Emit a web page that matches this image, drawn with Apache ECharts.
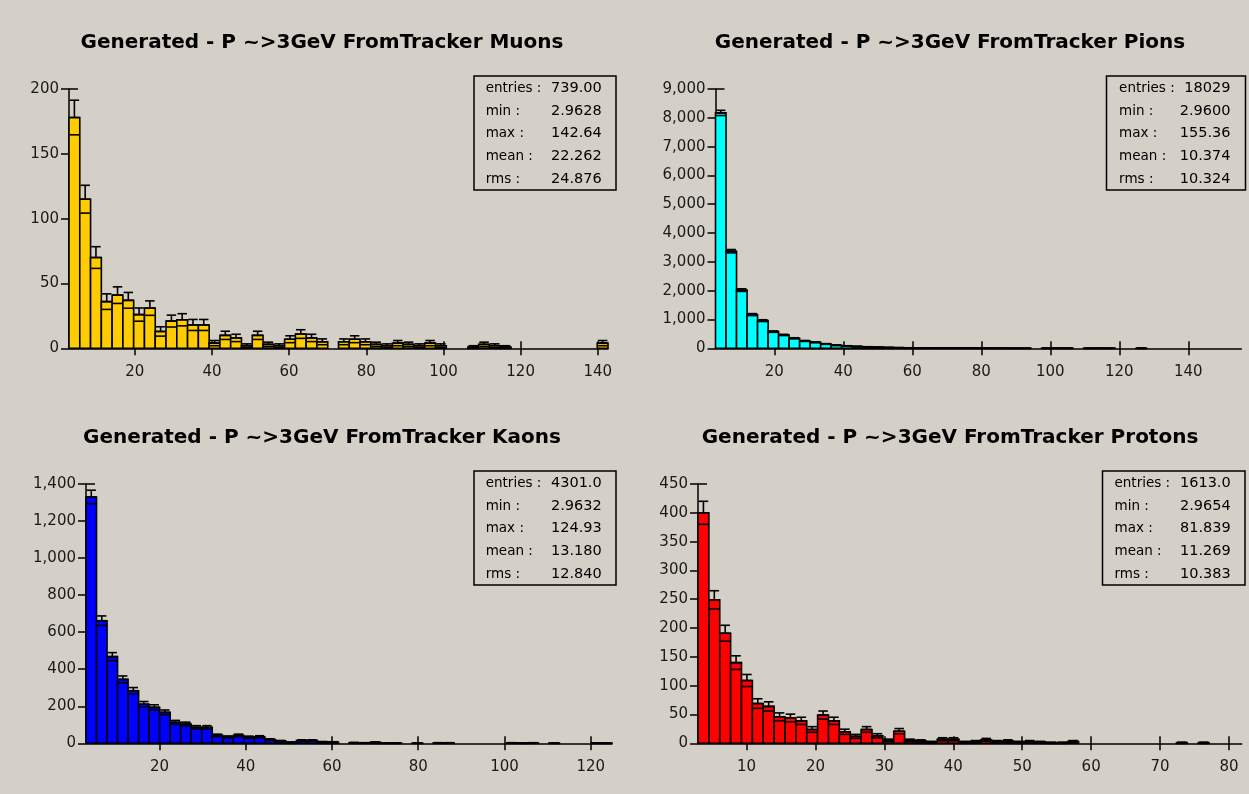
<!DOCTYPE html>
<html>
<head>
<meta charset="utf-8">
<script src="https://cdn.jsdelivr.net/npm/echarts@6/dist/echarts.min.js"></script>
<style>
  html, body { margin: 0; padding: 0; background: #d4d0c8; }
  #chart { width: 1249px; height: 794px; }
</style>
</head>
<body>
<div id="chart"></div>
<script>
// Generated momentum spectra (P > ~3 GeV, FromTracker), 50 bins per histogram.
const muonCounts = [178, 115, 70, 36, 41, 37, 26, 31, 13, 21, 22, 18, 18, 4, 10, 8, 2, 10, 3, 2,
  7, 11, 8, 5, 0, 5, 7, 5, 3, 2, 4, 3, 2, 4, 2, 0, 0, 1, 3, 2,
  1, 0, 0, 0, 0, 0, 0, 0, 0, 4];
const pionCounts = [8170, 3370, 2020, 1170, 960, 578, 463, 347, 255, 208, 150, 105, 80, 62, 48, 35, 26, 20, 15, 11,
  9, 7, 5, 4, 3, 3, 2, 2, 1, 1, 0, 1, 2, 1, 0, 1, 1, 1, 0, 0,
  1, 0, 0, 0, 0, 0, 0, 0, 0, 0];
const kaonCounts = [1330, 662, 468, 345, 284, 211, 194, 167, 113, 104, 86, 86, 43, 34, 43, 33, 35, 20, 12, 5,
  15, 15, 7, 6, 0, 3, 2, 5, 1, 1, 0, 1, 0, 2, 2, 0, 0, 0, 0, 0,
  2, 1, 2, 0, 1, 0, 0, 0, 1, 1];
const protonCounts = [400, 249, 191, 140, 109, 69, 64, 46, 44, 39, 24, 49, 39, 20, 12, 24, 13, 5, 21, 5,
  4, 2, 7, 7, 2, 3, 6, 3, 4, 2, 3, 2, 1, 1, 3, 0, 0, 0, 0, 0,
  0, 0, 0, 0, 1, 0, 1, 0, 0, 0];

// Histogram ranges [min, max] in GeV
const muonRange = [2.9628, 142.64];
const pionRange = [2.9600, 155.36];
const kaonRange = [2.9632, 124.93];
const protonRange = [2.9654, 81.839];

// Axis tick values
const muonXTicks = [20, 40, 60, 80, 100, 120, 140];
const pionXTicks = [20, 40, 60, 80, 100, 120, 140];
const kaonXTicks = [20, 40, 60, 80, 100, 120];
const protonXTicks = [10, 20, 30, 40, 50, 60, 70, 80];
const muonYAxis = [200, 50];
const pionYAxis = [9000, 1000];
const kaonYAxis = [1400, 200];
const protonYAxis = [450, 50];

// Statistics boxes
const statLabels = ['entries :', 'min :', 'max :', 'mean :', 'rms :'];
const muonStats = ['739.00', '2.9628', '142.64', '22.262', '24.876'];
const pionStats = ['18029', '2.9600', '155.36', '10.374', '10.324'];
const kaonStats = ['4301.0', '2.9632', '124.93', '13.180', '12.840'];
const protonStats = ['1613.0', '2.9654', '81.839', '11.269', '10.383'];

const titles = [
  'Generated - P ~>3GeV FromTracker Muons',
  'Generated - P ~>3GeV FromTracker Pions',
  'Generated - P ~>3GeV FromTracker Kaons',
  'Generated - P ~>3GeV FromTracker Protons'
];

const FONT = '"DejaVu Sans", Verdana, sans-serif';

const panels = [
  { counts: muonCounts, range: muonRange, xt: muonXTicks, y: muonYAxis, stats: muonStats, title: titles[0],
    color: '#ffcc00', grid: { left: 69, top: 89, width: 539, height: 259.3 },
    box: { x: 474, y: 76, w: 142, h: 114, lx: 11.7, vx: 127.7 }, tx: 322, ty: 43 },
  { counts: pionCounts, range: pionRange, xt: pionXTicks, y: pionYAxis, stats: pionStats, title: titles[1],
    color: '#00ffff', grid: { left: 715.5, top: 89, width: 525.8, height: 259.3 },
    box: { x: 1106.5, y: 76, w: 139, h: 114, lx: 12.6, vx: 124 }, tx: 950, ty: 43 },
  { counts: kaonCounts, range: kaonRange, xt: kaonXTicks, y: kaonYAxis, stats: kaonStats, title: titles[2],
    color: '#0000ff', grid: { left: 86, top: 484, width: 526, height: 259.3 },
    box: { x: 474, y: 471, w: 142, h: 114, lx: 11.7, vx: 127.7 }, tx: 322, ty: 438 },
  { counts: protonCounts, range: protonRange, xt: protonXTicks, y: protonYAxis, stats: protonStats, title: titles[3],
    color: '#ff0000', grid: { left: 698, top: 484, width: 543.7, height: 259.3 },
    box: { x: 1102.5, y: 471, w: 142.5, h: 114, lx: 12, vx: 128.2 }, tx: 950, ty: 438 }
];

// Bin the counts over the histogram range: [low edge, high edge, count]
function binData(counts, range) {
  const w = (range[1] - range[0]) / counts.length;
  return counts.map((c, i) => [range[0] + i * w, range[0] + (i + 1) * w, c]);
}

// Bar with sqrt(N) error bar: caps at N±sqrt(N), stem above the bar top
function histItem(color) {
  return function (params, api) {
    const lo = api.value(0), hi = api.value(1), n = api.value(2);
    if (!(n > 0)) return null;
    const a = api.coord([lo, 0]);
    const b = api.coord([hi, n]);
    const e = Math.sqrt(n);
    const yu = api.coord([lo, n + e])[1];
    const yd = api.coord([lo, Math.max(n - e, 0)])[1];
    const cx = (a[0] + b[0]) / 2;
    const half = (b[0] - a[0]) * 0.44;
    const ls = { stroke: '#000', lineWidth: 1.6 };
    return {
      type: 'group',
      children: [
        { type: 'rect', shape: { x: a[0], y: b[1], width: b[0] - a[0], height: a[1] - b[1] },
          style: { fill: color, stroke: '#000', lineWidth: 1.6 } },
        { type: 'line', shape: { x1: cx, y1: yu, x2: cx, y2: b[1] }, style: ls },
        { type: 'line', shape: { x1: cx - half, y1: yu, x2: cx + half, y2: yu }, style: ls },
        { type: 'line', shape: { x1: cx - half, y1: yd, x2: cx + half, y2: yd }, style: ls },
        { type: 'line', shape: { x1: a[0], y1: b[1], x2: b[0], y2: b[1] }, style: ls }
      ]
    };
  };
}

const axisLineStyle = { color: '#000', width: 1.5 };
const labelStyle = { color: '#1a1a1a', fontFamily: FONT, fontSize: 15 };

const grid = [], xAxis = [], yAxis = [], series = [], graphic = [];

panels.forEach((p, i) => {
  grid.push(Object.assign({ containLabel: false }, p.grid));
  // main x axis: line, outward ticks, labels
  xAxis.push({
    gridIndex: i, type: 'value', min: p.range[0], max: p.range[1], position: 'bottom',
    axisLine: { show: true, lineStyle: axisLineStyle },
    axisTick: { show: true, length: 7, customValues: p.xt, lineStyle: axisLineStyle },
    axisLabel: Object.assign({ show: true, margin: 16, customValues: p.xt }, labelStyle),
    splitLine: { show: false }
  });
  // companion axis so the x ticks cross the axis line
  xAxis.push({
    gridIndex: i, type: 'value', min: p.range[0], max: p.range[1], position: 'bottom', offset: 0,
    axisLine: { show: false },
    axisTick: { show: true, inside: true, length: 7, customValues: p.xt, lineStyle: axisLineStyle },
    axisLabel: { show: false },
    splitLine: { show: false }
  });
  yAxis.push({
    gridIndex: i, type: 'value', min: 0, max: p.y[0], interval: p.y[1], position: 'left',
    axisLine: { show: true, lineStyle: axisLineStyle },
    axisTick: { show: true, length: 8, lineStyle: axisLineStyle },
    axisLabel: Object.assign({ margin: 10, formatter: v => v.toLocaleString('en-US') }, labelStyle),
    splitLine: { show: false }
  });
  // companion y axis: the top tick crosses the axis line
  yAxis.push({
    gridIndex: i, type: 'value', min: 0, max: p.y[0], position: 'left', offset: 0,
    axisLine: { show: false },
    axisTick: { show: true, inside: true, length: 9, customValues: [p.y[0]], lineStyle: axisLineStyle },
    axisLabel: { show: false },
    splitLine: { show: false }
  });
  series.push({
    type: 'custom', xAxisIndex: 2 * i, yAxisIndex: 2 * i,
    renderItem: histItem(p.color),
    encode: { x: [0, 1], y: 2 },
    data: binData(p.counts, p.range),
    silent: true, animation: false
  });

  // title
  graphic.push({
    type: 'text', x: p.tx, y: p.ty,
    style: { text: p.title, font: 'bold 20px ' + FONT, fill: '#000',
      textAlign: 'center', textVerticalAlign: 'middle' }
  });
  // statistics box
  graphic.push({
    type: 'rect', shape: { x: p.box.x, y: p.box.y, width: p.box.w, height: p.box.h },
    style: { fill: 'none', stroke: '#000', lineWidth: 1.5 }
  });
  statLabels.forEach((lab, k) => {
    const yy = p.box.y + 12.3 + k * 22.7;
    graphic.push({
      type: 'text', x: p.box.x + p.box.lx, y: yy,
      style: { text: lab, font: '13.5px ' + FONT, fill: '#000', textAlign: 'left', textVerticalAlign: 'middle' }
    });
    graphic.push({
      type: 'text', x: p.box.x + p.box.vx, y: yy,
      style: { text: p.stats[k], font: '14.5px ' + FONT, fill: '#000', textAlign: 'right', textVerticalAlign: 'middle' }
    });
  });
});

const chart = echarts.init(document.getElementById('chart'), null, { renderer: 'canvas' });
chart.setOption({
  backgroundColor: '#d4d0c8',
  animation: false,
  grid, xAxis, yAxis, series, graphic
});
</script>
</body>
</html>
